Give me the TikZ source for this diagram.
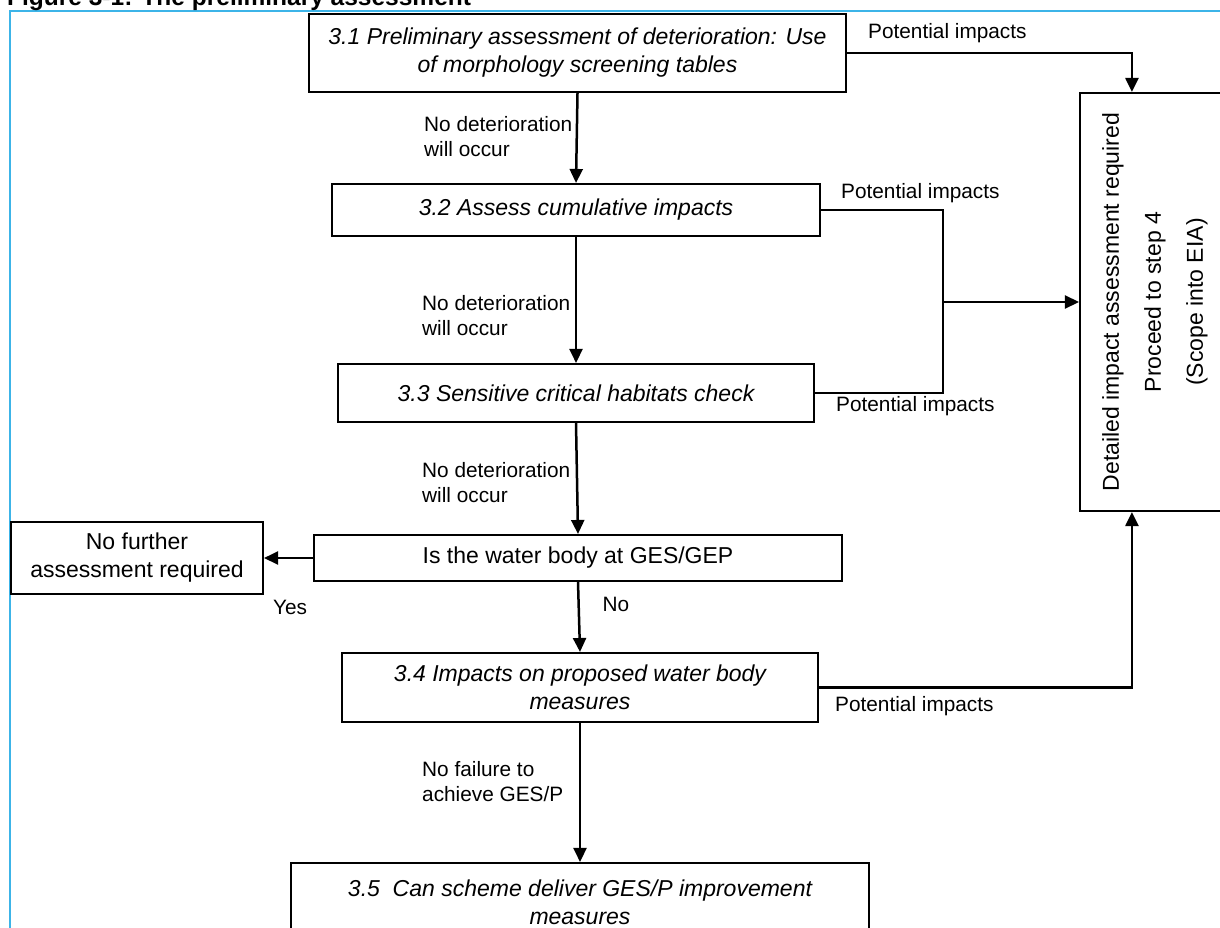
\documentclass[tikz,border=0pt]{standalone}
\usepackage{fontspec}
\setmainfont{Liberation Sans}
\usetikzlibrary{arrows.meta}
\definecolor{frameblue}{RGB}{60,180,232}
\begin{document}
\begin{tikzpicture}[x=1pt,y=-1pt,
  box/.style={draw, line width=2.1pt, inner sep=0pt, align=center, font=\fontsize{23}{28}\selectfont},
  ibox/.style={box, font=\fontsize{23}{28}\selectfont\itshape},
  lbl/.style={inner sep=0pt, align=left, font=\fontsize{20.8}{25}\selectfont},
  conn/.style={line width=2.5pt},
  arr/.style={conn, -{Triangle[length=14pt,width=13pt]}}]
\useasboundingbox (0,0) rectangle (1220,928);
% frame and title
\draw[frameblue, line width=2.4pt] (10,940) -- (10,11) -- (1230,11);
\node[anchor=base west, inner sep=0pt, font=\fontsize{24.5}{28}\selectfont\bfseries] (title) at (7,6) {Figure 3-1: The preliminary assessment};
% boxes
\node[ibox, minimum width=537pt, minimum height=78pt] (b31) at (577.5,53) {3.1 Preliminary assessment of deterioration: Use\\of morphology screening tables};
\node[ibox, minimum width=488pt, minimum height=52pt] (b32) at (576,210) {3.2 Assess cumulative impacts};
\node[ibox, minimum width=476pt, minimum height=58pt] (b33) at (576,393) {3.3 Sensitive critical habitats check};
\node[box, minimum width=528pt, minimum height=46pt] (bges) at (578,558) {Is the water body at GES/GEP};
\node[box, minimum width=252pt, minimum height=72pt] (bnf) at (137,558) {No further\\assessment required};
\node[ibox, minimum width=476pt, minimum height=69pt] (b34) at (580,687.5) {3.4 Impacts on proposed water body\\measures};
\node[ibox, minimum width=578pt, minimum height=78pt] (b35) at (580,902) {3.5\ \ Can scheme deliver GES/P improvement\\measures};
\node[box, minimum width=142pt, minimum height=418pt] (bdet) at (1151,302) {};
\node[rotate=90, inner sep=0pt, align=center, font=\fontsize{23}{42}\selectfont] (dettext) at (1155,302) {Detailed impact assessment required\\Proceed to step 4\\(Scope into EIA)};
% connectors
\draw[arr] (b31.south) -- (b32.north);
\draw[arr] (b32.south) -- (b33.north);
\draw[arr] (b33.south) -- (bges.north);
\draw[arr] (bges.west) -- (bnf.east);
\draw[arr] (bges.south) -- (b34.north);
\draw[arr] (b34.south) -- (b35.north);
\draw[arr] (b31.east) -| ([xshift=53pt]bdet.north west);
\coordinate (junc) at (943,302);
\draw[conn] (b32.east) -| (junc) |- (b33.east);
\draw[arr] (junc) -- (bdet.west);
\draw[arr] (b34.east) -| ([xshift=53pt]bdet.south west);
% labels
\node[lbl, anchor=west] (l1) at (424,136.5) {No deterioration\\will occur};
\node[lbl, anchor=west] (l2) at (422,315.5) {No deterioration\\will occur};
\node[lbl, anchor=west] (l3) at (422,482.5) {No deterioration\\will occur};
\node[lbl, anchor=west] (l4) at (422,782) {No failure to\\achieve GES/P};
\node[lbl] (yes) at (290,607) {Yes};
\node[lbl] (no) at (616,604) {No};
\node[lbl, anchor=west] (p1) at (868,33) {Potential impacts};
\node[lbl, anchor=west] (p2) at (841,193) {Potential impacts};
\node[lbl, anchor=west] (p3) at (836,406) {Potential impacts};
\node[lbl, anchor=west] (p4) at (835,706) {Potential impacts};
\end{tikzpicture}
\end{document}
